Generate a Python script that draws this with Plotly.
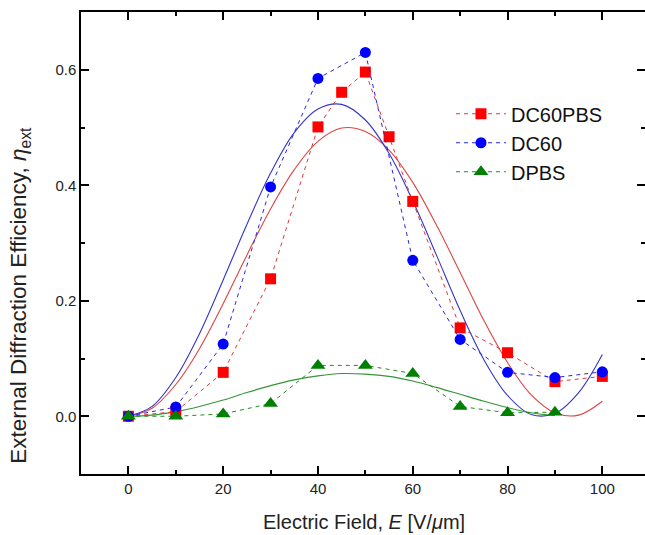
import plotly.graph_objects as go

# Measured data (Electric field in V/um)
field_dc60pbs = [0, 10, 20, 30, 40, 45, 50, 55, 60, 70, 80, 90, 100]
eta_dc60pbs = [0.000, 0.008, 0.076, 0.238, 0.501, 0.561, 0.596, 0.484, 0.372, 0.153, 0.110, 0.060, 0.069]

field_dc60 = [0, 10, 20, 30, 40, 50, 60, 70, 80, 90, 100]
eta_dc60 = [0.000, 0.016, 0.125, 0.397, 0.585, 0.630, 0.270, 0.133, 0.076, 0.067, 0.077]

field_dpbs = [0, 10, 20, 30, 40, 50, 60, 70, 80, 90]
eta_dpbs = [0.000, 0.000, 0.004, 0.022, 0.088, 0.088, 0.074, 0.017, 0.006, 0.007]

# Fitted curves, every 5 V/um
fit_field = [0, 5, 10, 15, 20, 25, 30, 35, 40, 45, 50, 55, 60, 65, 70, 75, 80, 85, 90, 95, 100]
fit_dc60pbs = [0.000, 0.014, 0.055, 0.117, 0.195, 0.279, 0.359, 0.427, 0.476, 0.499, 0.493,
               0.461, 0.405, 0.331, 0.249, 0.166, 0.093, 0.037, 0.006, 0.002, 0.026]
fit_dc60 = [0.000, 0.017, 0.067, 0.143, 0.236, 0.332, 0.421, 0.491, 0.532, 0.540, 0.513,
            0.455, 0.373, 0.279, 0.183, 0.098, 0.036, 0.003, 0.005, 0.041, 0.107]
fit_field_dpbs = [0, 5, 10, 15, 20, 25, 30, 35, 40, 45, 50, 55, 60, 65, 70, 75, 80, 85, 90]
fit_dpbs = [0.000, 0.002, 0.008, 0.017, 0.028, 0.041, 0.053, 0.063, 0.070, 0.074, 0.073,
            0.069, 0.061, 0.050, 0.038, 0.026, 0.015, 0.006, 0.001]

x_ticks = [0, 20, 40, 60, 80, 100]
y_ticks = [0.0, 0.2, 0.4, 0.6]
y_tick_labels = ["0.0", "0.2", "0.4", "0.6"]

FONT = "Liberation Sans, Arial, sans-serif"

fig = go.Figure()

# fitted solid lines
fig.add_trace(go.Scatter(x=fit_field, y=fit_dc60pbs, mode="lines", line=dict(color="#DD4444", width=1.1, shape="spline"), showlegend=False, hoverinfo="skip"))
fig.add_trace(go.Scatter(x=fit_field, y=fit_dc60, mode="lines", line=dict(color="#3535C8", width=1.1, shape="spline"), showlegend=False, hoverinfo="skip"))
fig.add_trace(go.Scatter(x=fit_field_dpbs, y=fit_dpbs, mode="lines", line=dict(color="#359535", width=1.1, shape="spline"), showlegend=False, hoverinfo="skip"))

# data with dashed connectors
fig.add_trace(go.Scatter(x=field_dc60pbs, y=eta_dc60pbs, mode="lines+markers", name="DC60PBS",
                         line=dict(color="#E03838", width=1, dash="4px,4px"),
                         marker=dict(symbol="square", size=11, color="#FF0000")))
fig.add_trace(go.Scatter(x=field_dc60, y=eta_dc60, mode="lines+markers", name="DC60",
                         line=dict(color="#2828DD", width=1, dash="4px,4px"),
                         marker=dict(symbol="circle", size=11, color="#0000FF")))
fig.add_trace(go.Scatter(x=field_dpbs, y=eta_dpbs, mode="lines+markers", name="DPBS",
                         line=dict(color="#238C23", width=1, dash="4px,4px"),
                         marker=dict(symbol="triangle-up", size=13, color="#008000")))

axis_common = dict(showline=True, linecolor="black", linewidth=1.5, mirror="ticks",
                   ticks="inside", ticklen=8, tickwidth=1.5, tickcolor="black",
                   showgrid=False, zeroline=False, automargin=False,
                   tickfont=dict(family=FONT, size=15, color="#222"))

fig.update_xaxes(range=[-10, 109], tickvals=x_ticks,
                 minor=dict(dtick=10, tick0=0, ticks="inside", ticklen=4.5, tickwidth=1.5, tickcolor="black"),
                 **axis_common)
fig.update_yaxes(range=[-0.1, 0.7], tickvals=y_ticks, ticktext=y_tick_labels,
                 minor=dict(dtick=0.1, tick0=0, ticks="inside", ticklen=4.5, tickwidth=1.5, tickcolor="black"),
                 **axis_common)

fig.add_annotation(text="External Diffraction Efficiency, <i>η</i><sub>ext</sub>",
                   xref="paper", yref="paper", x=-0.1082, y=0.388, textangle=-90,
                   xanchor="center", yanchor="middle", showarrow=False,
                   font=dict(family=FONT, size=22.5, color="#222"))
fig.add_annotation(text="Electric Field, <i>E</i> [V/<i>μ</i>m]",
                   xref="paper", yref="paper", x=0.5018, y=-0.103,
                   xanchor="center", yanchor="middle", showarrow=False,
                   font=dict(family=FONT, size=20, color="#222"))

fig.update_layout(
    width=645, height=535,
    margin=dict(l=81, r=0, t=12, b=60.5),
    plot_bgcolor="white", paper_bgcolor="white",
    font=dict(family=FONT, color="#222"),
    legend=dict(x=0.656, y=0.822, xanchor="left", yanchor="top",
                font=dict(family=FONT, size=20, color="#111"),
                bgcolor="rgba(0,0,0,0)", itemwidth=50, tracegroupgap=0),
)

# remove the default page margin and any scrollbars so the figure fills the window exactly
page_js = ("document.body.style.margin='0px';"
           "document.body.style.overflow='hidden';"
           "document.documentElement.style.overflow='hidden';")
fig.write_html("out.html", config={"displayModeBar": False}, post_script=page_js)
